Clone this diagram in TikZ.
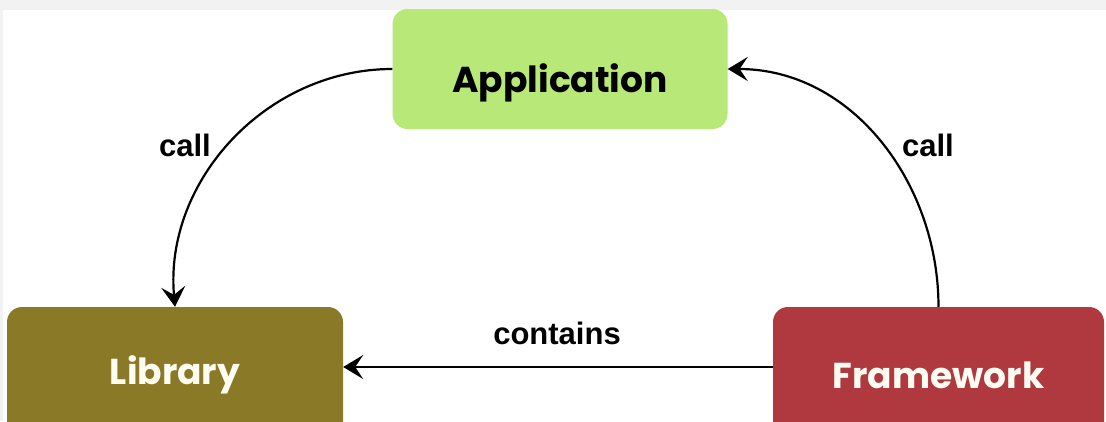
\documentclass[tikz,border=0pt]{standalone}
\usepackage{fontspec}
\setmainfont{Liberation Sans}
\newfontfamily\handfont{Poppins}
\usetikzlibrary{arrows.meta}
\definecolor{pagegray}{HTML}{F2F2F2}
\definecolor{appgreen}{HTML}{B8E878}
\definecolor{libolive}{HTML}{8A7A28}
\definecolor{fwred}{HTML}{B0383F}
\definecolor{txtcream}{HTML}{FFFDF2}

\begin{document}
\begin{tikzpicture}[x=1pt, y=-1pt,
    box/.style = {rounded corners=15pt, inner sep=0pt, font=\handfont\bfseries\fontsize{36}{40}\selectfont},
    link/.style = {line width=2.2pt, -{Stealth[length=20pt, width=24pt, inset=8pt]}},
    tag/.style = {inner sep=0pt, font=\bfseries\fontsize{31}{36}\selectfont}]
    \useasboundingbox (0,0) rectangle (1106,421);
    \fill[pagegray] (0,0) rectangle (1106,421);
    \fill[white] (3,10) rectangle (1106,421);
    % the three parts
    \node[box, fill=appgreen, minimum width=335pt, minimum height=120pt, text height=50pt, text depth=4pt] (app) at (560,69) {Application};
    \node[box, fill=libolive, text=txtcream, minimum width=336pt, minimum height=136pt] (lib) at (175,375) {Library};
    \node[box, fill=fwred, text=txtcream, minimum width=331pt, minimum height=136pt] (fw) at (938.5,375) {Framework};
    % who calls whom
    \draw[link] (app.west) to[out=180, in=95] (lib.north);
    \draw[link] (fw.north) to[out=90, in=0] (app.east);
    \draw[link] ([yshift=8pt]fw.west) -- ([yshift=8pt]lib.east);
    \node[tag] (calllib) at (185,145) {call};
    \node[tag] (callfw) at (928,145) {call};
    \node[tag] (contains) at (557,333) {contains};
\end{tikzpicture}
\end{document}
